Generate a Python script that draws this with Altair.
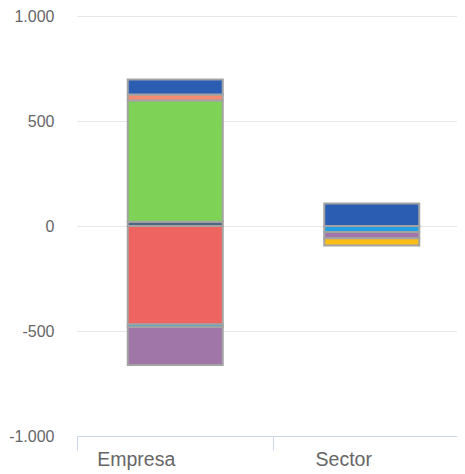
import altair as alt
import pandas as pd

categorias = ["Empresa", "Sector"]
series = ["S1", "S2", "S3", "S4", "S5", "S6", "S7", "S8"]
colores = ["#4f6580", "#ee6461", "#23a0df", "#a076a9", "#f8bd19", "#7ed357", "#f48a72", "#2b5db3"]
empresa = [20, -469, -12, -181, 0, 578, 28, 72]
sector = [0, 0, -28, -30, -35, 0, 0, 107]

rows = []
for i, s in enumerate(series):
    rows.append({"cat": "Empresa", "serie": s, "orden": i, "valor": empresa[i]})
    rows.append({"cat": "Sector", "serie": s, "orden": i, "valor": sector[i]})
df = pd.DataFrame(rows)
df = df[df["valor"] != 0]

chart = alt.Chart(df).mark_bar(size=95, stroke="#a3a3a3", strokeWidth=2).encode(
    x=alt.X("cat:N", sort=categorias, title=None,
            scale=alt.Scale(paddingInner=0, paddingOuter=0, range=[0, 393]),
            axis=alt.Axis(labelAngle=0, domainColor="#ccd6eb", tickColor="#ccd6eb",
                          tickSize=14, bandPosition=0, labelPadding=0, labelBaseline="top",
                          labelOffset={"condition": {"test": "datum.value == 'Empresa'", "value": -39}, "value": -28},
                          labelFontSize=19.5, labelColor="#666666", labelFont="Liberation Sans",
                          grid=False)),
    y=alt.Y("valor:Q", stack="zero", title=None,
            scale=alt.Scale(domain=[-1000, 1000], nice=False, zero=False),
            axis=alt.Axis(values=[-1000, -500, 0, 500, 1000], ticks=False, domain=False,
                          labelPadding=23, gridColor="#e6e6e6", labelFontSize=16,
                          labelColor="#666666", labelFont="Liberation Sans",
                          labelExpr="replace(replace(format(datum.value, ','), ',', '.'), '\u2212', '-')")),
    color=alt.Color("serie:N", scale=alt.Scale(domain=series, range=colores), legend=None),
    order=alt.Order("orden:Q"),
).properties(
    width=380, height=420,
    autosize=alt.AutoSizeParams(type="none"),
    padding={"left": 69, "top": 8, "right": 0, "bottom": 38},
).configure_view(stroke=None)

chart.save("out.html", embed_options={"renderer": "svg", "actions": False})
